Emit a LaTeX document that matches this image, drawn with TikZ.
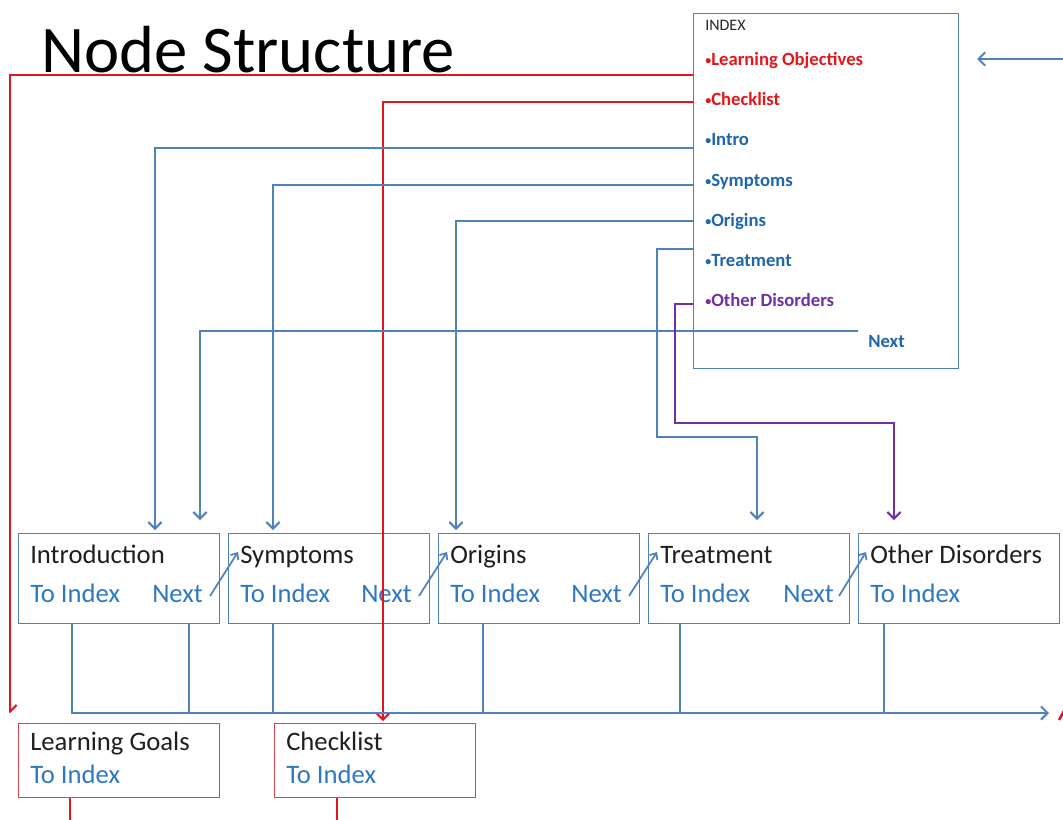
\documentclass[tikz,border=0pt]{standalone}
\usepackage{fontspec}
\setmainfont{Carlito}
\usetikzlibrary{arrows.meta}
\definecolor{lblue}{HTML}{4F81BD}
\definecolor{lred}{HTML}{E0161E}
\definecolor{boxred}{HTML}{D0484A}
\definecolor{lpurple}{HTML}{7030A0}
\definecolor{linkblue}{HTML}{2E78C0}
\definecolor{idxblue}{HTML}{1F66AA}
\definecolor{idxred}{HTML}{E3171B}
\newcommand{\smbul}{{\fontsize{9}{10}\selectfont\raisebox{0.5pt}{•}}}
\begin{document}
\begin{tikzpicture}[x=0.75pt,y=-0.75pt,
  bl/.style={draw=lblue, line width=1.9pt},
  rd/.style={draw=lred, line width=1.9pt},
  pu/.style={draw=lpurple, line width=1.9pt},
  arr/.style={-{Straight Barb[length=5pt,width=10pt,line width=1.5pt]}},
  sarr/.style={-{Straight Barb[length=4pt,width=7pt,line width=1.3pt]}},
  nbox/.style={draw=lblue, line width=1.1pt, minimum width=150.75pt, minimum height=67.5pt, anchor=north west, inner sep=0pt},
  rbox/.style={draw=boxred, line width=1.1pt, minimum width=150.75pt, minimum height=55.5pt, anchor=north west, inner sep=0pt},
  ttl/.style={anchor=base west, font=\fontsize{20}{24}\selectfont, text=black!88, inner sep=0pt},
  lnk/.style={ttl, text=linkblue},
  idxit/.style={anchor=base west, font=\bfseries\fontsize{14}{16}\selectfont, inner sep=0pt}]
\useasboundingbox (0,0) rectangle (1063,819);

% title
\node[anchor=base west, inner sep=0pt, font=\fontsize{50}{60}\selectfont, text=black] (title) at (41,72) {Node Structure};

% index box
\node[draw=lblue, line width=1.1pt, minimum width=198.75pt, minimum height=266.25pt, anchor=north west, inner sep=0pt] (idx) at (693,13) {};
\node[anchor=base west, inner sep=0pt, font=\fontsize{12}{14}\selectfont, text=black!85] (idxt) at (705,30) {INDEX};
\node[idxit, text=idxred] (iLO) at (705,65) {\smbul Learning Objectives};
\node[idxit, text=idxred] (iCK) at (705,105) {\smbul Checklist};
\node[idxit, text=idxblue] (iIN) at (705,145) {\smbul Intro};
\node[idxit, text=idxblue] (iSY) at (705,186) {\smbul Symptoms};
\node[idxit, text=idxblue] (iOR) at (705,226) {\smbul Origins};
\node[idxit, text=idxblue] (iTR) at (705,266) {\smbul Treatment};
\node[idxit, text=lpurple] (iOD) at (705,306) {\smbul Other Disorders};
\node[idxit, text=idxblue] (iNX) at (868,347) {Next};

% content boxes
\node[nbox] (intro) at (18,533) {};
\node[nbox] (symp) at (228,533) {};
\node[nbox] (orig) at (438,533) {};
\node[nbox] (treat) at (648,533) {};
\node[nbox] (other) at (858,533) {};
\node[rbox] (lg) at (18,723) {};
\node[rbox] (ck) at (274,723) {};

% box texts
\node[ttl] (tIntro) at (30,563) {Introduction};
\node[lnk] (xIntro) at (30,602) {To Index};
\node[lnk] (nIntro) at (152,602) {Next};
\node[ttl] (tSymp) at (240,563) {Symptoms};
\node[lnk] (xSymp) at (240,602) {To Index};
\node[lnk] (nSymp) at (361,602) {Next};
\node[ttl] (tOrig) at (450,563) {Origins};
\node[lnk] (xOrig) at (450,602) {To Index};
\node[lnk] (nOrig) at (571,602) {Next};
\node[ttl] (tTreat) at (660,563) {Treatment};
\node[lnk] (xTreat) at (660,602) {To Index};
\node[lnk] (nTreat) at (783,602) {Next};
\node[ttl] (tOther) at (870,563) {Other Disorders};
\node[lnk] (xOther) at (870,602) {To Index};
\node[ttl] (tLG) at (30,750) {Learning Goals};
\node[lnk] (xLG) at (30,783) {To Index};
\node[ttl] (tCK) at (286,750) {Checklist};
\node[lnk] (xCK) at (286,783) {To Index};

% coordinates on index box edge
\coordinate (sLO) at (693,75);
\coordinate (sCK) at (693,102);
\coordinate (sIN) at (693,148);
\coordinate (sSY) at (693,185);
\coordinate (sOR) at (693,221);
\coordinate (sTR) at (693,249);
\coordinate (sOD) at (693,304);
\coordinate (sNX) at (858,331);
% targets
\coordinate (eLO) at (10,713);
\coordinate (eCK) at (383,721);
\coordinate (eIN) at (155,530);
\coordinate (eSY) at (273,530);
\coordinate (eOR) at (456,530);
\coordinate (eNX) at (200,520);
\coordinate (tr1) at (657,437);
\coordinate (eTR) at (757,520);
\coordinate (od1) at (675,423);
\coordinate (eOD) at (894,520);

% red index links
\begin{scope}
\clip (9,0) rectangle (1063,819);
\draw[rd, arr] (sLO) -| (eLO);
\end{scope}
\draw[rd, arr] (sCK) -| (eCK);
% blue index links
\draw[bl, arr] (sIN) -| (eIN);
\draw[bl, arr] (sSY) -| (eSY);
\draw[bl, arr] (sOR) -| (eOR);
\draw[bl, arr] (sNX) -| (eNX);
\draw[bl, arr] (sTR) -| (tr1) -| (eTR);
\draw[pu, arr] (sOD) -| (od1) -| (eOD);

% top-right incoming arrow
\coordinate (inR) at (1075,59);
\coordinate (inE) at (977,59);
\draw[bl, arr] (inR) -- (inE);

% next arrows between boxes
\coordinate (n1a) at (210,596); \coordinate (n1b) at (238,552);
\coordinate (n2a) at (419,596); \coordinate (n2b) at (447,552);
\coordinate (n3a) at (629,596); \coordinate (n3b) at (657,552);
\coordinate (n4a) at (839,596); \coordinate (n4b) at (866,552);
\draw[draw=lblue, line width=1.3pt, sarr] (n1a) -- (n1b);
\draw[draw=lblue, line width=1.3pt, sarr] (n2a) -- (n2b);
\draw[draw=lblue, line width=1.3pt, sarr] (n3a) -- (n3b);
\draw[draw=lblue, line width=1.3pt, sarr] (n4a) -- (n4b);

% bus to index
\coordinate (b1) at (72,623);
\coordinate (bus1) at (72,713);
\coordinate (busE) at (1049,713);
\draw[bl, arr] (b1) -- (bus1) -- (busE);
\coordinate (b2) at (189,623);
\coordinate (b3) at (273,623);
\coordinate (b4) at (483,623);
\coordinate (b5) at (680,623);
\coordinate (b6) at (884,623);
\draw[bl] (b2) -- (b2 |- bus1);
\draw[bl] (b3) -- (b3 |- bus1);
\draw[bl] (b4) -- (b4 |- bus1);
\draw[bl] (b5) -- (b5 |- bus1);
\draw[bl] (b6) -- (b6 |- bus1);

% red lines leaving the red boxes
\coordinate (lgD) at (70,830);
\coordinate (ckD) at (337,830);
\draw[rd] (lg.south -| lgD) -- (lgD);
\draw[rd] (ck.south -| ckD) -- (ckD);

% red fragment at right edge
\coordinate (rf1) at (1059,720);
\coordinate (rf2) at (1065,709);
\draw[rd] (rf1) -- (rf2);
\end{tikzpicture}
\end{document}
